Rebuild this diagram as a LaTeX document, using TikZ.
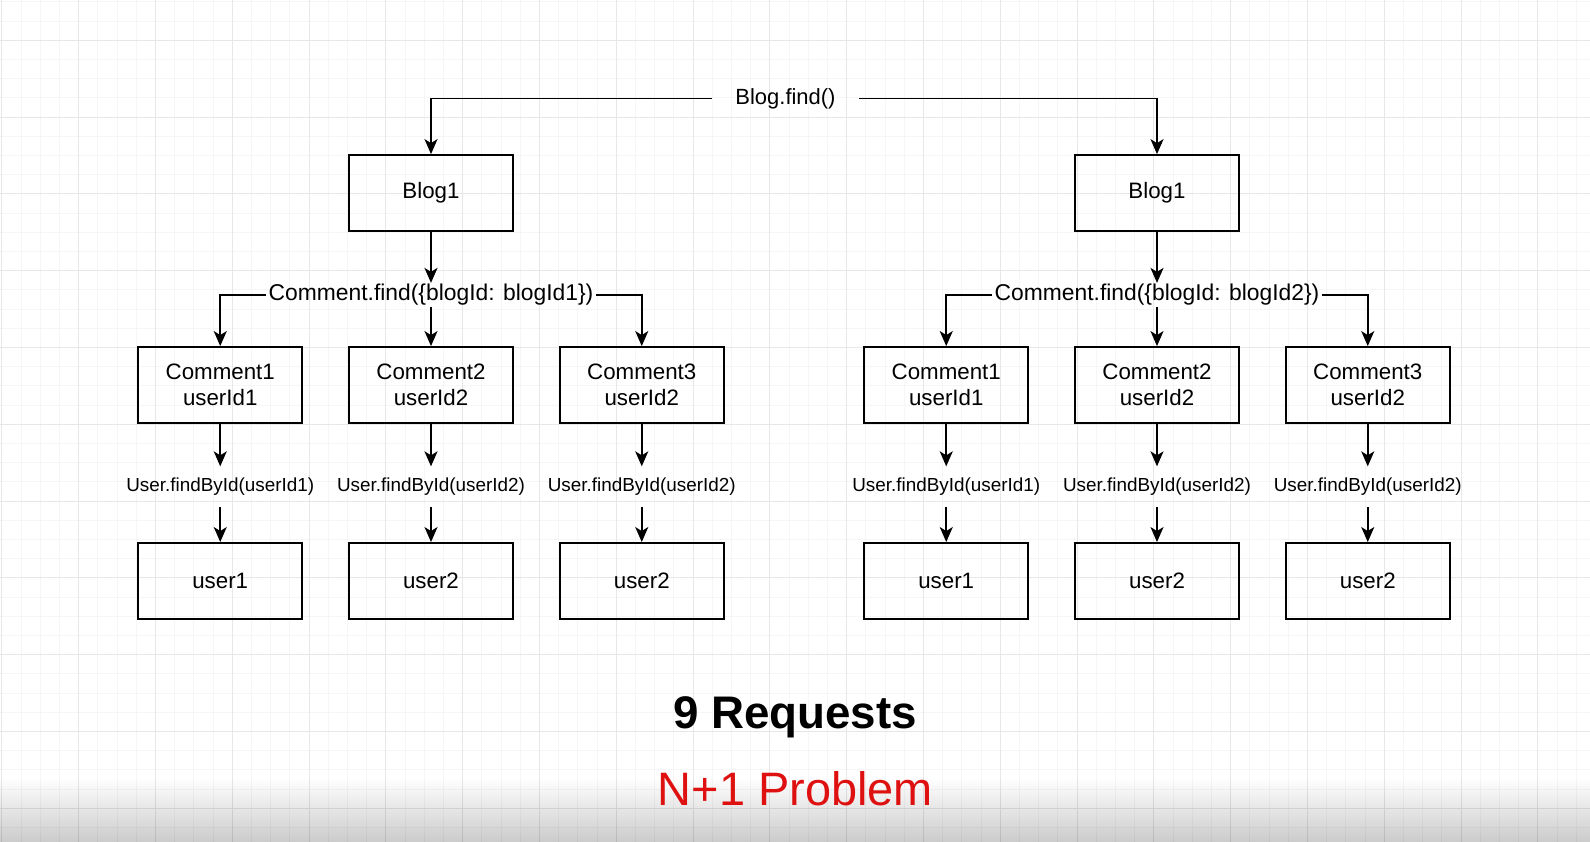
\documentclass[tikz,border=0pt]{standalone}
\usepackage{fontspec}
\setmainfont{Liberation Sans}
\usetikzlibrary{arrows.meta, positioning}
\definecolor{probred}{RGB}{222,16,16}
\tikzstyle{box} = [
    rectangle, draw=black, line width=1pt,
    minimum width=3.28cm, minimum height=1.52cm,
    align=center, text centered,
    font=\fontsize{12.7}{15}\selectfont]
\tikzstyle{call} = [
    inner sep=0pt, inner xsep=0.05cm, minimum height=0.46cm,
    font=\fontsize{13}{15}\selectfont]
\tikzstyle{lookup} = [
    inner sep=0pt, minimum height=0.8cm,
    font=\fontsize{10.75}{13}\selectfont]
\tikzstyle{arrow} = [line width=1pt, -{Stealth[length=0.3cm, width=0.26cm, inset=0.08cm]}]

\begin{document}
\begin{tikzpicture}

  % page and faint grid
  \useasboundingbox (0,0) rectangle (31.8,-16.82);
  \fill[white] (0,0) rectangle (31.8,-16.82);
  \shade[top color=white, bottom color=black!20] (0,-15.55) rectangle (31.8,-16.82);
  \begin{scope}
    \clip (0,0) rectangle (31.8,-16.82);
    \draw[shift={(0.036,-0.036)}, step=0.384, black, opacity=0.035, line width=0.5pt]
        (-1,-18) grid (33,1);
    \draw[shift={(0.036,-0.806)}, step=1.536, black, opacity=0.06, line width=0.5pt]
        (-2,-18) grid (33,2);
  \end{scope}

  \node (find) [call, inner xsep=0.47cm, font=\fontsize{12.5}{15}\selectfont] at (15.71,-1.97)
      {Blog.find()};
  \node (blogA) [box] at (8.62,-3.86) {Blog1};
  \node (blogB) [box] at (23.14,-3.86) {Blog1};

  \node (cfindA) [call, below=1.02cm of blogA] {Comment.find(\{blogId: blogId1\})};
  \node (cfindB) [call, below=1.02cm of blogB] {Comment.find(\{blogId: blogId2\})};

  \node (cA2) [box, below=0.79cm of cfindA] {Comment2\\userId2};
  \node (cA1) [box, left=0.9cm of cA2] {Comment1\\userId1};
  \node (cA3) [box, right=0.9cm of cA2] {Comment3\\userId2};
  \node (cB2) [box, below=0.79cm of cfindB] {Comment2\\userId2};
  \node (cB1) [box, left=0.9cm of cB2] {Comment1\\userId1};
  \node (cB3) [box, right=0.9cm of cB2] {Comment3\\userId2};

  \node (ufA1) [lookup, below=0.85cm of cA1] {User.findById(userId1)};
  \node (ufA2) [lookup, below=0.85cm of cA2] {User.findById(userId2)};
  \node (ufA3) [lookup, below=0.85cm of cA3] {User.findById(userId2)};
  \node (ufB1) [lookup, below=0.85cm of cB1] {User.findById(userId1)};
  \node (ufB2) [lookup, below=0.85cm of cB2] {User.findById(userId2)};
  \node (ufB3) [lookup, below=0.85cm of cB3] {User.findById(userId2)};

  \node (uA1) [box, below=0.7cm of ufA1] {user1};
  \node (uA2) [box, below=0.7cm of ufA2] {user2};
  \node (uA3) [box, below=0.7cm of ufA3] {user2};
  \node (uB1) [box, below=0.7cm of ufB1] {user1};
  \node (uB2) [box, below=0.7cm of ufB2] {user2};
  \node (uB3) [box, below=0.7cm of ufB3] {user2};

  \node (total) [anchor=base, font=\fontsize{26}{30}\selectfont\bfseries] at (15.9,-14.56)
      {9 Requests};
  \node (nplus) [anchor=base, text=probred, font=\fontsize{26.7}{31}\selectfont] at (15.91,-16.1)
      {N+1 Problem};

  \draw [arrow] (find.west) -| (blogA.north);
  \draw [arrow] (find.east) -| (blogB.north);

  \draw [arrow] (blogA) -- (cfindA);
  \draw [arrow] (cfindA.west) -| (cA1.north);
  \draw [arrow] (cfindA) -- (cA2);
  \draw [arrow] (cfindA.east) -| (cA3.north);
  \draw [arrow] (blogB) -- (cfindB);
  \draw [arrow] (cfindB.west) -| (cB1.north);
  \draw [arrow] (cfindB) -- (cB2);
  \draw [arrow] (cfindB.east) -| (cB3.north);

  \draw [arrow] (cA1) -- (ufA1);
  \draw [arrow] (cA2) -- (ufA2);
  \draw [arrow] (cA3) -- (ufA3);
  \draw [arrow] (cB1) -- (ufB1);
  \draw [arrow] (cB2) -- (ufB2);
  \draw [arrow] (cB3) -- (ufB3);

  \draw [arrow] (ufA1) -- (uA1);
  \draw [arrow] (ufA2) -- (uA2);
  \draw [arrow] (ufA3) -- (uA3);
  \draw [arrow] (ufB1) -- (uB1);
  \draw [arrow] (ufB2) -- (uB2);
  \draw [arrow] (ufB3) -- (uB3);

\end{tikzpicture}
\end{document}
